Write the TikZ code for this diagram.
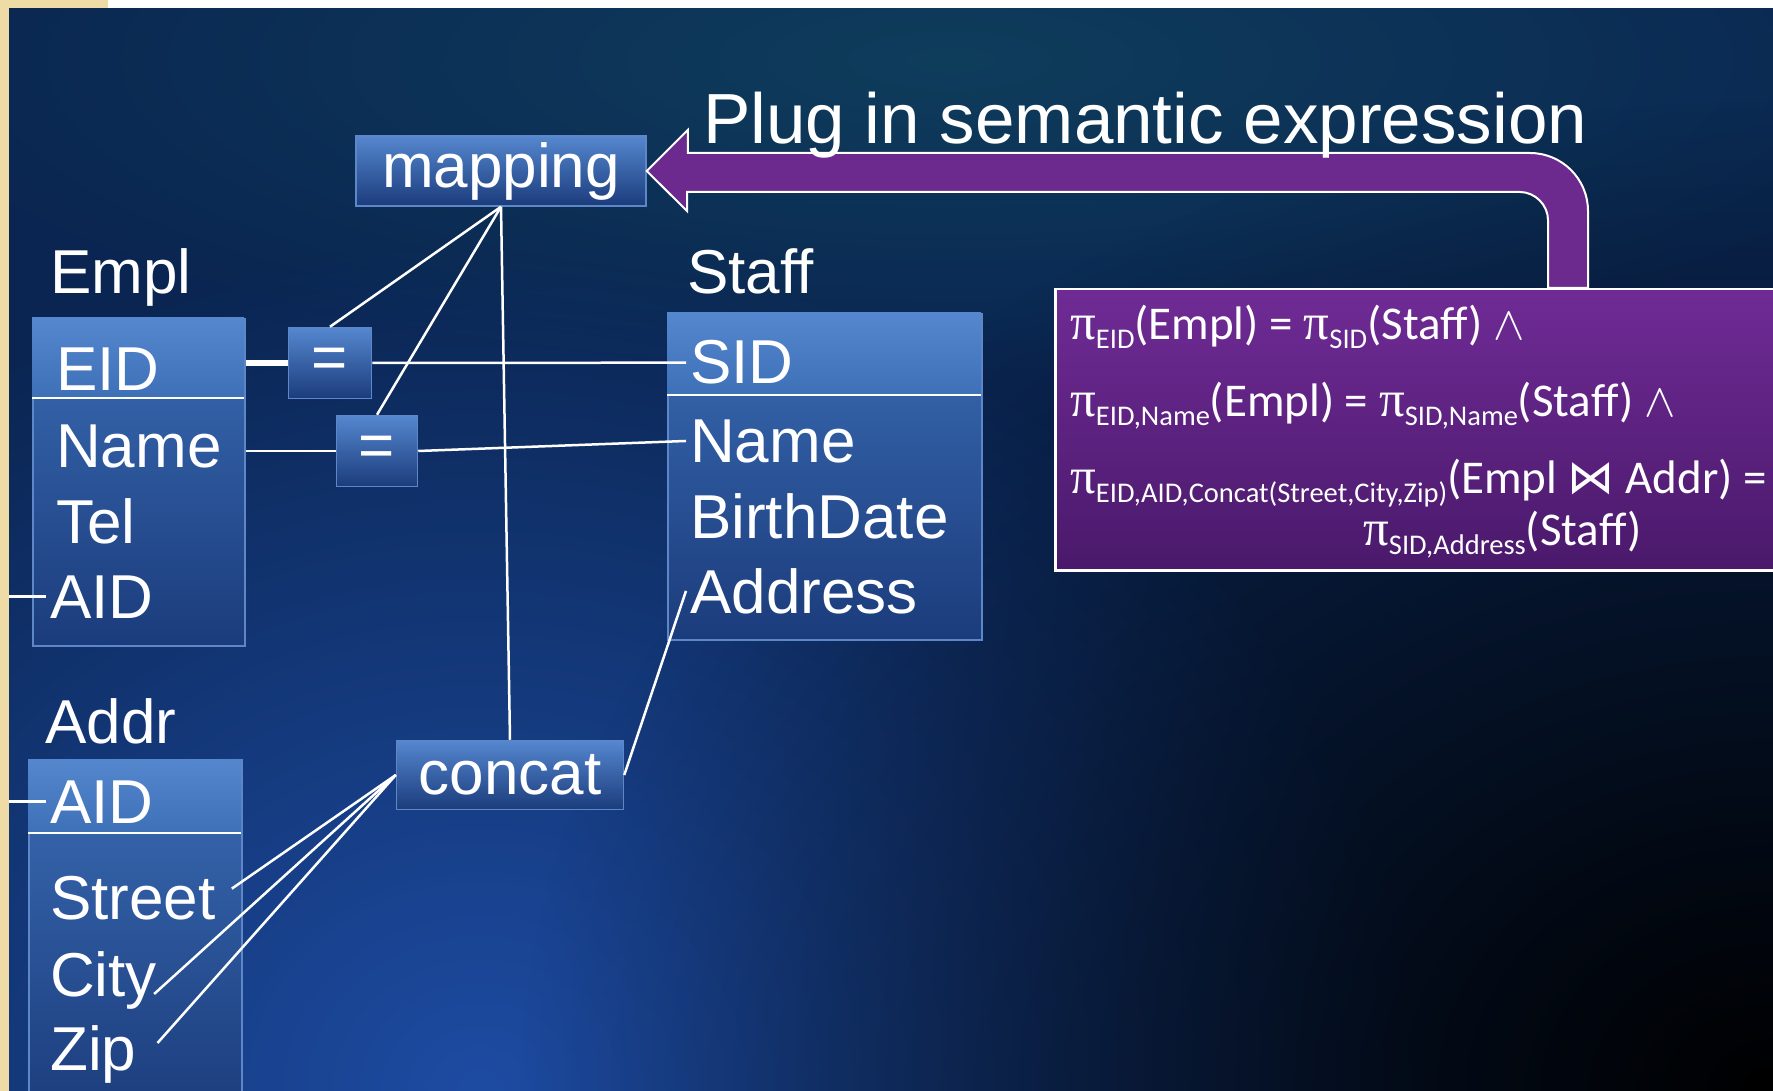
\RequirePackage{fix-cm}
\documentclass[tikz,border=0pt]{standalone}
\usepackage{fontspec}
\setmainfont{Liberation Sans}
\newfontfamily\calib{Carlito}
\newfontfamily\pifont{Liberation Serif}
\newfontfamily\symf{DejaVu Sans}
\usetikzlibrary{
  positioning,
  calc,
  fadings,
}
\definecolor{navy}{HTML}{0A2551}
\definecolor{bgblue}{HTML}{1E4CA3}
\definecolor{bgteal}{HTML}{0F3D5C}
\definecolor{beige}{HTML}{EEDBA6}
\definecolor{boxedge}{HTML}{5D87C7}
\definecolor{boxtop}{HTML}{3A6BB3}
\definecolor{boxbot}{HTML}{1B3C7C}
\definecolor{headtop}{HTML}{5587CF}
\definecolor{headbot}{HTML}{3E70B8}
\definecolor{plum}{HTML}{6C2A8E}
\definecolor{fbtop}{HTML}{6F2B95}
\definecolor{fbbot}{HTML}{4A196B}
\tikzfading[name=glow, inner color=transparent!0, outer color=transparent!100]
\newcommand{\prj}[1]{{\pifont\fontsize{51}{51}\selectfont π}\raisebox{-9pt}{\fontsize{28.5}{28.5}\selectfont #1}}

\begin{document}
\begin{tikzpicture}[
  x=1pt, y=-1pt,
  every node/.style={text=white},
  field/.style={anchor=base west, inner sep=4pt, font=\fontsize{62}{62}\selectfont},
  tblbox/.style={draw=boxedge, line width=1.5pt, top color=boxtop, bottom color=boxbot, anchor=north west, inner sep=0pt},
  tblhead/.style={top color=headtop, bottom color=headbot},
  opbox/.style={draw=boxedge, line width=1.5pt, top color=headtop, bottom color=boxbot, inner sep=0pt, font=\fontsize{62}{62}\selectfont},
  wire/.style={draw=white, line width=2.5pt},
  formula/.style={anchor=base west, inner sep=0pt, font=\calib\fontsize{47}{47}\selectfont},
]
\useasboundingbox (0,0) rectangle (1773,1091);
\begin{scope}
\clip (0,0) rectangle (1773,1091);
% slide background
\fill[navy] (0,0) rectangle (1773,1091);
\fill[bgteal, path fading=glow] (950,60) ellipse (1100pt and 320pt);
\fill[bgblue, path fading=glow] (480,1091) ellipse (950pt and 850pt);
\fill[black, path fading=glow] (1773,1091) ellipse (1250pt and 1000pt);
\fill[beige] (0,0) rectangle (9,1091);
\fill[beige] (0,0) rectangle (108,8);
\fill[white] (108,0) rectangle (1773,8);

% tables
\node[tblbox, minimum width=212pt, minimum height=327pt] (emplbox) at (32,318) {};
\path[tblhead] (32,318) rectangle (244,398);
\draw[wire] (32,398) -- (244,398);
\node[tblbox, minimum width=314pt, minimum height=326pt] (staffbox) at (667,313) {};
\path[tblhead] (667,313) rectangle (981,395);
\draw[wire] (667,395) -- (981,395);
\node[tblbox, minimum width=213pt, minimum height=360pt] (addrbox) at (28,759) {};
\path[tblhead] (28,759) rectangle (241,833);
\draw[wire] (28,833) -- (241,833);

\node[field] (empl) at (46,294) {Empl};
\node[field] (staff) at (683,294) {Staff};
\node[field] (addr) at (41,743) {Addr};
\foreach \nm/\txt/\xx/\yy in {eeid/EID/52/390, ename/Name/52/467, etel/Tel/52/543, eaid/AID/46/618,
  ssid/SID/686/384, sname/Name/686/462, sbirth/BirthDate/686/538, saddr/Address/686/613,
  aaid/AID/46/823, astreet/Street/46/919, acity/City/46/996, azip/Zip/46/1070}
  \node[field] (\nm) at (\xx,\yy) {\txt};

% operators
\node[opbox, minimum width=290pt, minimum height=70pt] (mapping) at (501,171) {mapping};
\node[opbox, minimum width=83pt, minimum height=71pt] (eq1) at (330,363) {=};
\node[opbox, minimum width=81pt, minimum height=71pt] (eq2) at (377,451) {=};
\node[opbox, minimum width=227pt, minimum height=69pt] (concat) at (510,775) {concat};

\coordinate (edge) at (9,0);
\draw[wire, line width=6pt] (eq1.west -| emplbox.east) -- (eq1.west);
\draw[wire] (eq1.east) -- (ssid.west);
\draw[wire] (eq2.west -| emplbox.east) -- (eq2.west);
\draw[wire] (eq2.east) -- (sname.west);
\draw[wire] (mapping.south) -- (eq1.north);
\draw[wire] (mapping.south) -- (eq2.north);
\draw[wire] (mapping.south) -- (concat.north);
\draw[wire] (concat.west) -- ([shift={(12,-9)}]astreet.east);
\draw[wire] (concat.west) -- ([shift={(-7,14)}]acity.east);
\draw[wire] (concat.west) -- ([shift={(17,-11)}]azip.east);
\draw[wire] (concat.east) -- (saddr.west);
\draw[wire] (eaid.west) -- (eaid.west -| edge);
\draw[wire] (aaid.west) -- (aaid.west -| edge);

% semantic expression
\fill[plum, draw=white, line width=2pt] (mapping.east) -- ++(41,-41) -- ++(0,23) -- (1530,153)
  .. controls (1562,153) and (1588,179) .. (1588,211) -- (1588,288) -- (1548,288) -- (1548,220)
  .. controls (1548,205) and (1535,192) .. (1520,192) -- ++(-833,0) -- ++(0,19) -- cycle;
\node[anchor=base west, inner sep=0pt, font=\fontsize{71}{71}\selectfont] (title) at (703,144) {Plug in semantic expression};
\node[draw=white, line width=2.5pt, top color=fbtop, bottom color=fbbot, anchor=north west,
  minimum width=760pt, minimum height=281pt] (sem) at (1054,288) {};
\node[formula] (f1) at (1070,340) {\prj{EID}(Empl) = \prj{SID}(Staff) $\wedge$};
\node[formula] (f2) at (1070,417) {\prj{EID,Name}(Empl) = \prj{SID,Name}(Staff) $\wedge$};
\node[formula] (f3) at (1070,493) {\prj{EID,AID,Concat(Street,City,Zip)}(Empl {\symf ⋈} Addr) =};
\node[formula] (f4) at (1363,545) {\prj{SID,Address}(Staff)};
\end{scope}
\end{tikzpicture}
\end{document}
